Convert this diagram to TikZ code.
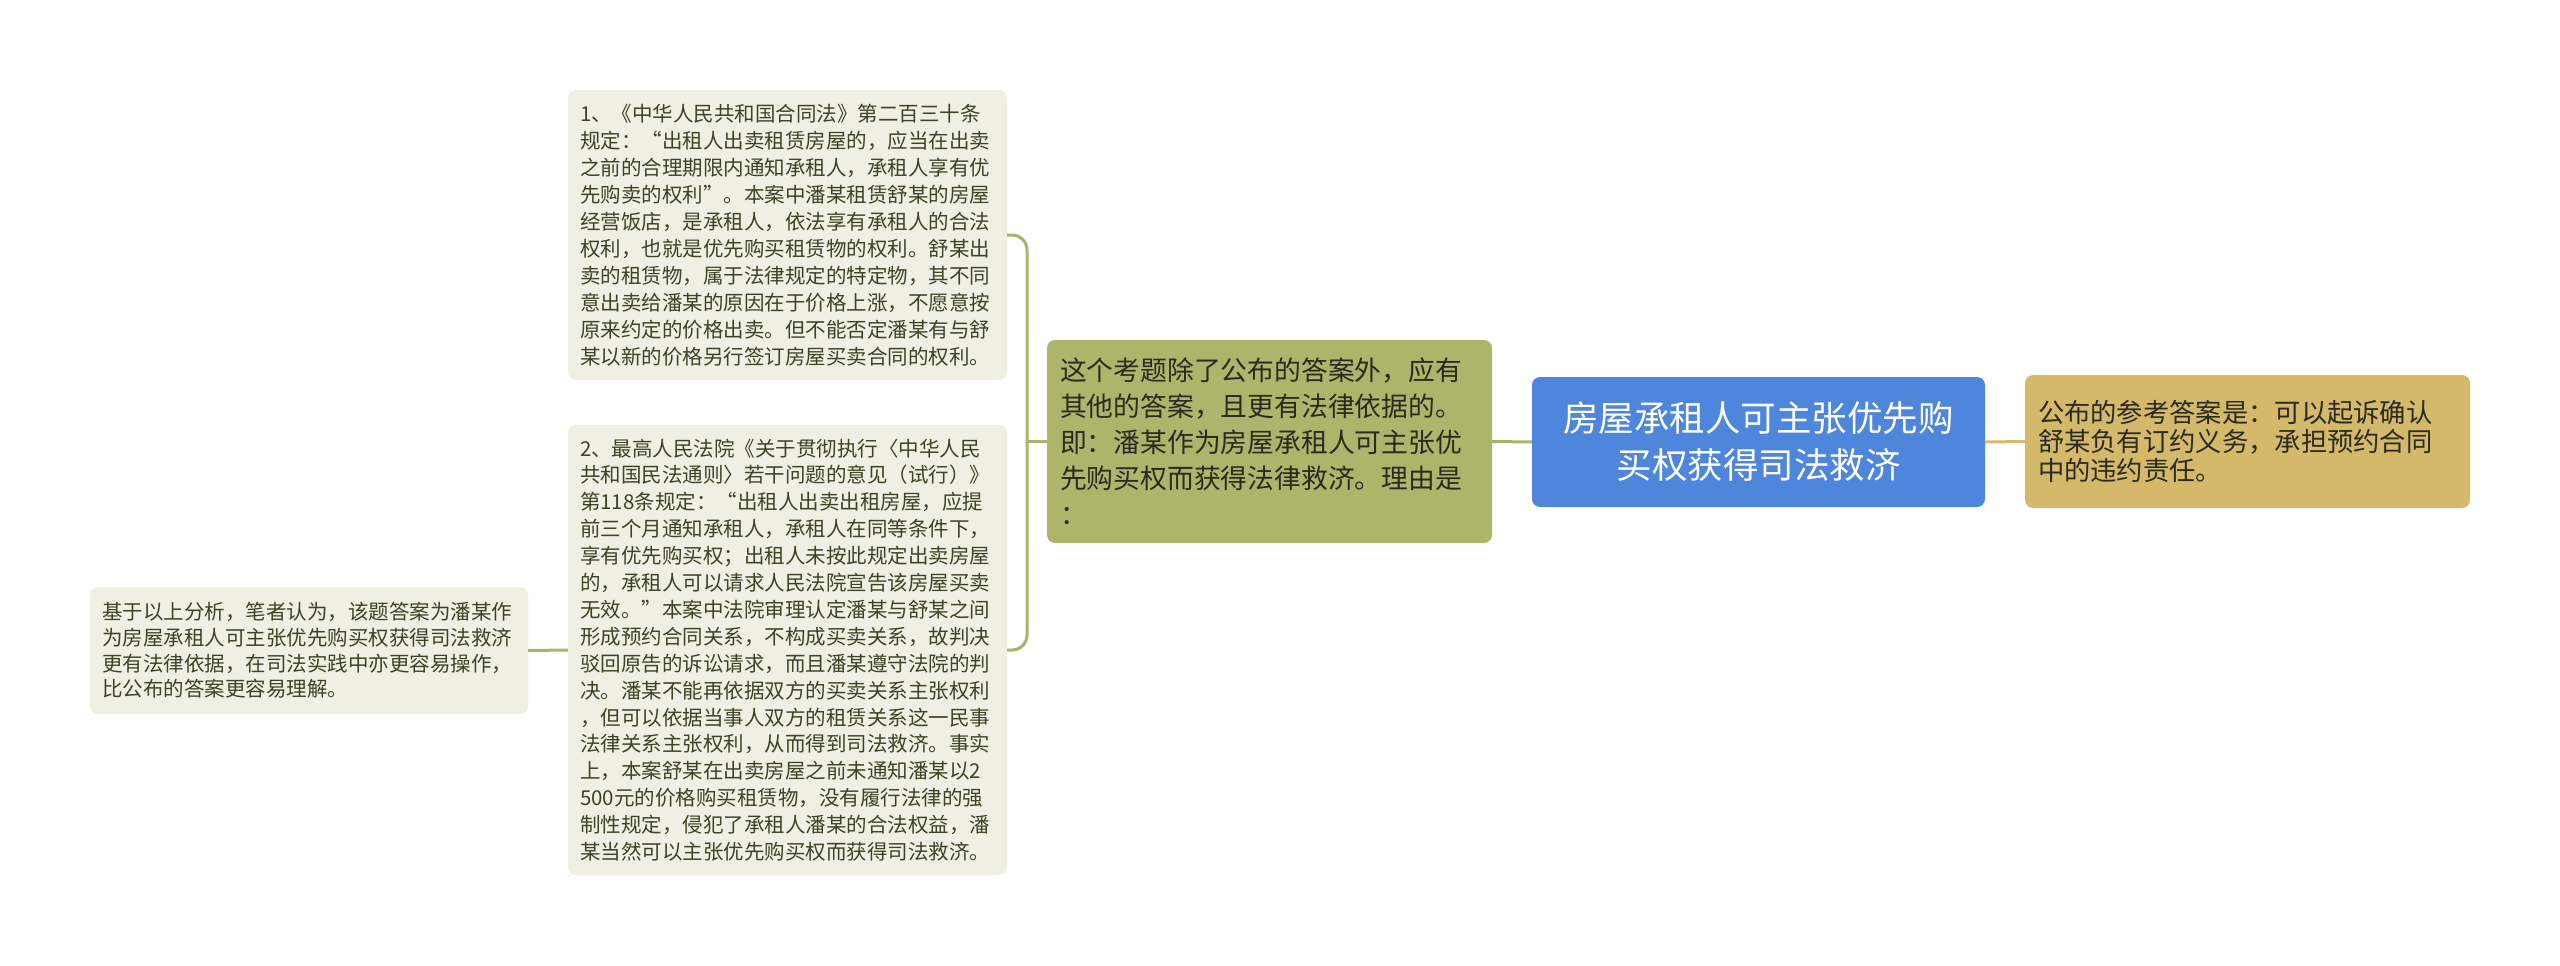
\documentclass[tikz,border=0pt]{standalone}
\usepackage{fontspec}
\setmainfont{Noto Sans CJK SC}
\definecolor{palefill}{HTML}{EFEFE3}
\definecolor{paletext}{HTML}{3D4325}
\definecolor{greenfill}{HTML}{ADB56B}
\definecolor{greenline}{HTML}{A9B46A}
\definecolor{bluefill}{HTML}{4D86DB}
\definecolor{goldfill}{HTML}{D5B96A}
\definecolor{goldline}{HTML}{D6BB6F}
\definecolor{darktext}{HTML}{2A2A1E}
\tikzset{
  box/.style={rectangle, rounded corners=8pt, inner ysep=0pt, align=left, anchor=center},
  palebox/.style={box, fill=palefill, text=paletext, inner xsep=12pt},
  greenbox/.style={box, fill=greenfill, text=darktext, inner xsep=13pt},
  bluebox/.style={box, fill=bluefill, text=white, align=center, inner xsep=20pt},
  goldbox/.style={box, fill=goldfill, text=darktext, inner xsep=13pt},
  gconn/.style={draw=greenline, line width=3pt},
  yconn/.style={draw=goldline, line width=3pt},
}
\begin{document}
\begin{tikzpicture}[x=1pt,y=-1pt]
\useasboundingbox (0,0) rectangle (2560,966);
\fill[white] (0,0) rectangle (2560,966);

\node[bluebox, minimum width=453pt, minimum height=130pt, text width=413pt,
  font={\fontsize{35.5}{47}\selectfont\lineskiplimit=-50pt}] (c) at (1758.5,442)
  {房屋承租人可主张优先购\\买权获得司法救济};

\node[goldbox, minimum width=445pt, minimum height=133pt, text width=419pt,
  font={\fontsize{26.3}{29}\selectfont\lineskiplimit=-50pt}] (r) at (2247.5,441.5)
  {公布的参考答案是：可以起诉确认\\舒某负有订约义务，承担预约合同\\中的违约责任。};

\node[greenbox, minimum width=445pt, minimum height=203pt, text width=419pt,
  font={\fontsize{26.8}{36}\selectfont\lineskiplimit=-50pt}] (g) at (1269.5,441.5)
  {这个考题除了公布的答案外，应有\\其他的答案，且更有法律依据的。\\即：潘某作为房屋承租人可主张优\\先购买权而获得法律救济。理由是\\：};

\node[palebox, minimum width=439pt, minimum height=290pt, text width=415pt,
  font={\fontsize{20.5}{27}\selectfont\lineskiplimit=-50pt}] (b1) at (787.5,235)
  {1、《中华人民共和国合同法》第二百三十条\\规定：“出租人出卖租赁房屋的，应当在出卖\\之前的合理期限内通知承租人，承租人享有优\\先购卖的权利”。本案中潘某租赁舒某的房屋\\经营饭店，是承租人，依法享有承租人的合法\\权利，也就是优先购买租赁物的权利。舒某出\\卖的租赁物，属于法律规定的特定物，其不同\\意出卖给潘某的原因在于价格上涨，不愿意按\\原来约定的价格出卖。但不能否定潘某有与舒\\某以新的价格另行签订房屋买卖合同的权利。};

\node[palebox, minimum width=439pt, minimum height=450pt, text width=415pt,
  font={\fontsize{20.5}{26.9}\selectfont\lineskiplimit=-50pt}] (b2) at (787.5,650)
  {2、最高人民法院《关于贯彻执行〈中华人民\\共和国民法通则〉若干问题的意见（试行）》\\第118条规定：“出租人出卖出租房屋，应提\\前三个月通知承租人，承租人在同等条件下，\\享有优先购买权；出租人未按此规定出卖房屋\\的，承租人可以请求人民法院宣告该房屋买卖\\无效。”本案中法院审理认定潘某与舒某之间\\形成预约合同关系，不构成买卖关系，故判决\\驳回原告的诉讼请求，而且潘某遵守法院的判\\决。潘某不能再依据双方的买卖关系主张权利\\，但可以依据当事人双方的租赁关系这一民事\\法律关系主张权利，从而得到司法救济。事实\\上，本案舒某在出卖房屋之前未通知潘某以2\\500元的价格购买租赁物，没有履行法律的强\\制性规定，侵犯了承租人潘某的合法权益，潘\\某当然可以主张优先购买权而获得司法救济。};

\node[palebox, minimum width=438pt, minimum height=127pt, text width=414pt,
  font={\fontsize{20.5}{25.7}\selectfont\lineskiplimit=-50pt}] (b3) at (309,650.5)
  {基于以上分析，笔者认为，该题答案为潘某作\\为房屋承租人可主张优先购买权获得司法救济\\更有法律依据，在司法实践中亦更容易操作，\\比公布的答案更容易理解。};

\coordinate (j) at (1027,441.5);
\draw[gconn] (c.west) -- (g.east);
\draw[yconn] (c.east) -- (r.west);
\draw[gconn] (g.west) -- (j);
\draw[gconn, rounded corners=15pt] (j) |- (b1.east);
\draw[gconn, rounded corners=15pt] (j) |- (b2.east);
\draw[gconn] (b2.west) -- (b3.east);
\end{tikzpicture}
\end{document}
